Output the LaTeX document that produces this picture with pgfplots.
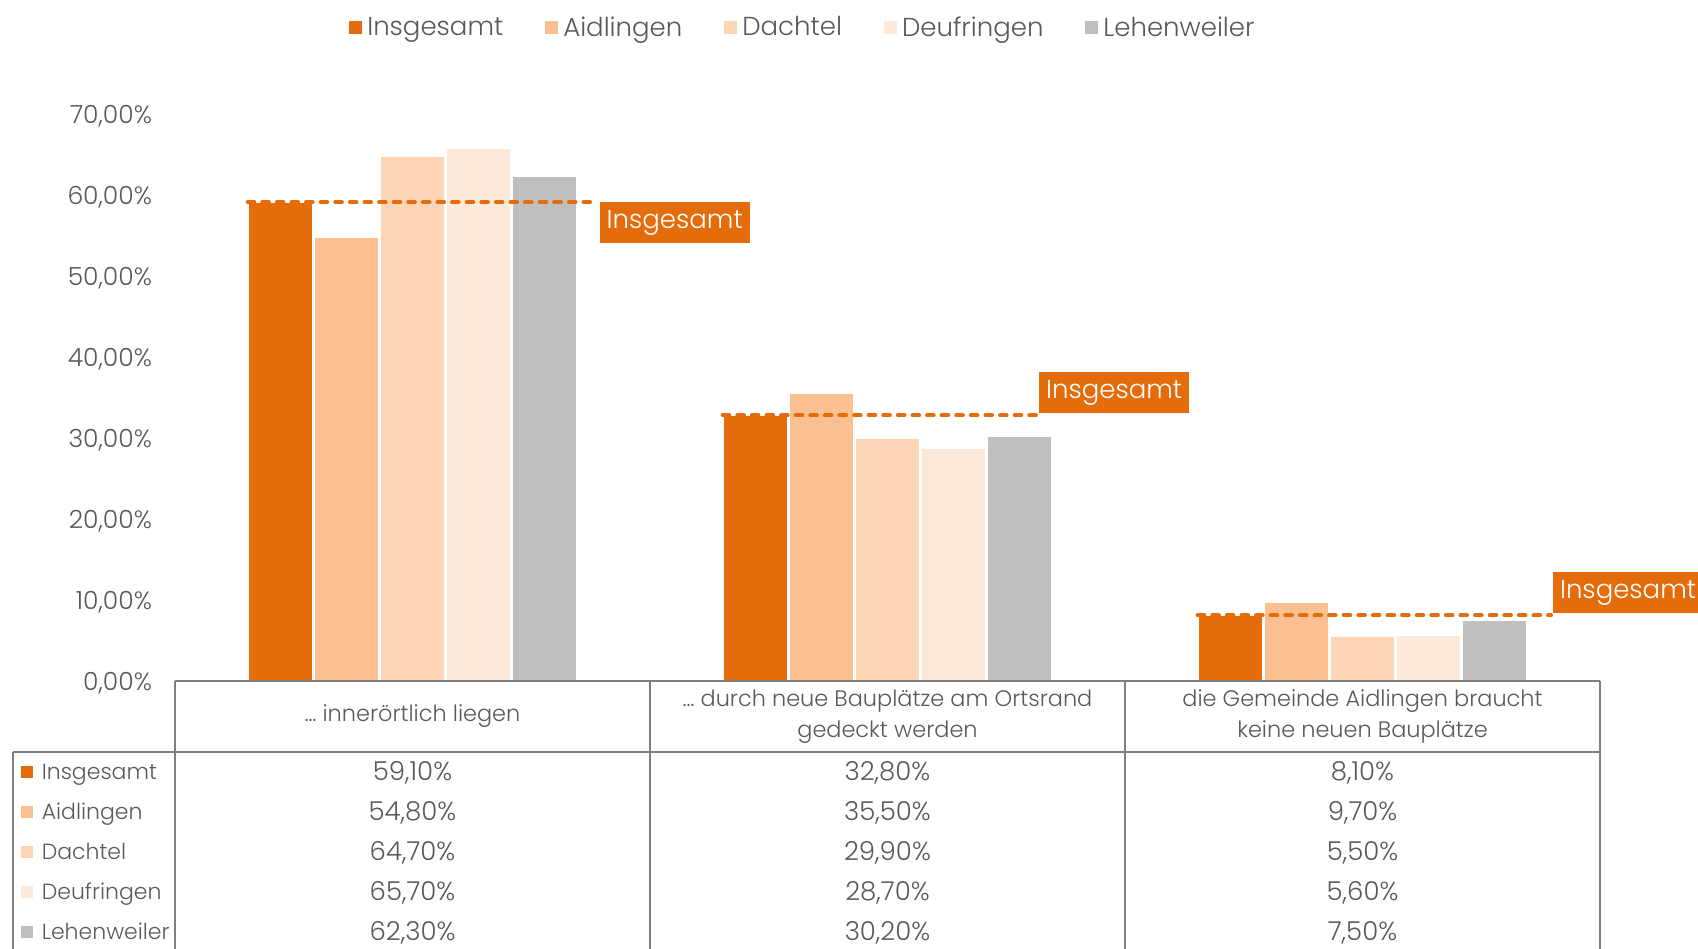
\documentclass[border=0pt]{standalone}
\usepackage{pgfplots}
\pgfplotsset{compat=1.18}
\usepackage{pgfplotstable}
\usepackage{fontspec}
\setmainfont{Poppins Light}

\definecolor{cIns}{HTML}{E46C0A}
\definecolor{cAid}{HTML}{FAC090}
\definecolor{cDac}{HTML}{FBD5B5}
\definecolor{cDeu}{HTML}{FDE9D9}
\definecolor{cLeh}{HTML}{BFBFBF}
\definecolor{txt}{HTML}{595959}
\definecolor{rule}{HTML}{7F7F7F}

\pgfplotstableread{
x Insgesamt Aidlingen Dachtel Deufringen Lehenweiler
0 59.1 54.8 64.7 65.7 62.3
1 32.8 35.5 29.9 28.7 30.2
2 8.1  9.7  5.5  5.6  7.5
}\data

\newcommand\fs{\fontsize{11}{15.5}\selectfont}
\newcommand\fsh{\fontsize{11.2}{15.5}\selectfont}
\newcommand\fsl{\fontsize{13}{15.5}\selectfont}
\newcommand\fst{\fontsize{12.5}{15}\selectfont}
\tikzset{box/.style={fill=cIns, text=white, font=\fsl, minimum width=75pt, minimum height=20.5pt, inner sep=0pt}}

\begin{document}
\begin{tikzpicture}
\begin{axis}[
  x=237.5pt, y=4.05pt,
  xmin=-0.5, xmax=2.5, ymin=0, ymax=70,
  axis line style={draw=none},
  major tick length=0pt,
  ytick={0,10,...,70},
  xtick=\empty,
  /pgf/number format/assume math mode=true,
  yticklabel={\pgfmathprintnumber[fixed,fixed zerofill,precision=2,use comma]{\tick}\%},
  yticklabel style={font=\fst, text=txt, xshift=-8pt, yshift=-1pt},
  ybar=1pt, bar width=32pt,
  clip=false,
  legend columns=5,
  legend style={draw=none, at={(0.441,1.152)}, anchor=center, font=\fsl, text=txt,
    /tikz/every even column/.append style={column sep=18.5pt}},
  legend image code/.code={\fill[#1] (0pt,-3.5pt) rectangle (7pt,3.5pt);},
]
\addplot[fill=cIns, draw=white, line width=0.5pt] table[x=x,y=Insgesamt]{\data};
\addplot[fill=cAid, draw=white, line width=0.5pt] table[x=x,y=Aidlingen]{\data};
\addplot[fill=cDac, draw=white, line width=0.5pt] table[x=x,y=Dachtel]{\data};
\addplot[fill=cDeu, draw=white, line width=0.5pt] table[x=x,y=Deufringen]{\data};
\addplot[fill=cLeh, draw=white, line width=0.5pt] table[x=x,y=Lehenweiler]{\data};
\legend{Insgesamt,Aidlingen,Dachtel,Deufringen,Lehenweiler}

\addplot[forget plot, sharp plot, cIns, line width=2pt, dash pattern=on 3.3pt off 4pt, line cap=round]
  coordinates {(-0.347,59.1) (0.39,59.1)} node[pos=1, anchor=north west, box, yshift=1pt]{Insgesamt};
\addplot[forget plot, sharp plot, cIns, line width=2pt, dash pattern=on 3.3pt off 4pt, line cap=round]
  coordinates {(0.653,32.8) (1.315,32.8)} node[pos=1, anchor=south west, box]{Insgesamt};
\addplot[forget plot, sharp plot, cIns, line width=2pt, dash pattern=on 3.3pt off 4pt, line cap=round]
  coordinates {(1.653,8.1) (2.397,8.1)} node[pos=1, anchor=south west, box]{Insgesamt};

\coordinate (BL) at (axis cs:-0.8684,-33.09);
\coordinate (TR) at (axis cs:2.7063,84.07);
\coordinate (O) at (axis cs:-0.5,0);
\end{axis}

% data table below the plot
\begin{scope}[shift={(O)}, rule, line width=0.8pt]
  \draw (0,0) -- (712.5pt,0);
  \draw (-81pt,-35.5pt) -- (712.5pt,-35.5pt);
  \foreach \xx in {0,237.5,475,712.5} \draw (\xx pt,0) -- (\xx pt,-140pt);
  \draw (-81pt,-35.5pt) -- (-81pt,-140pt);
  \node[text=txt, font=\fsh, align=center] at (118.75pt,-17.75pt) {\dots\ innerörtlich liegen};
  \node[text=txt, font=\fsh, align=center] at (356.25pt,-17.75pt) {\dots\ durch neue Bauplätze am Ortsrand\\gedeckt werden};
  \node[text=txt, font=\fsh, align=center] at (593.75pt,-17.75pt) {die Gemeinde Aidlingen braucht\\keine neuen Bauplätze};
  \foreach \c/\col [count=\i from 0] in {Insgesamt/cIns,Aidlingen/cAid,Dachtel/cDac,Deufringen/cDeu,Lehenweiler/cLeh} {
    \fill[\col] (-76.75pt,{-45.5pt-\i*20pt-3pt}) rectangle ++(6pt,6pt);
    \node[text=txt, font=\fs, anchor=base west, inner sep=0pt] at (-67pt,{-45.5pt-\i*20pt-4pt}) {\c};
    \foreach \r in {0,1,2} {
      \pgfplotstablegetelem{\r}{\c}\of\data
      \node[text=txt, font=\fsl, anchor=base, inner sep=0pt] at ({118.75pt+\r*237.5pt},{-45.5pt-\i*20pt-4.5pt})
        {\pgfmathprintnumber[fixed,fixed zerofill,precision=2,use comma,assume math mode=true]{\pgfplotsretval}\%};
    }
  }
\end{scope}

\pgfresetboundingbox
\useasboundingbox (BL) rectangle (TR);
\end{tikzpicture}
\end{document}
